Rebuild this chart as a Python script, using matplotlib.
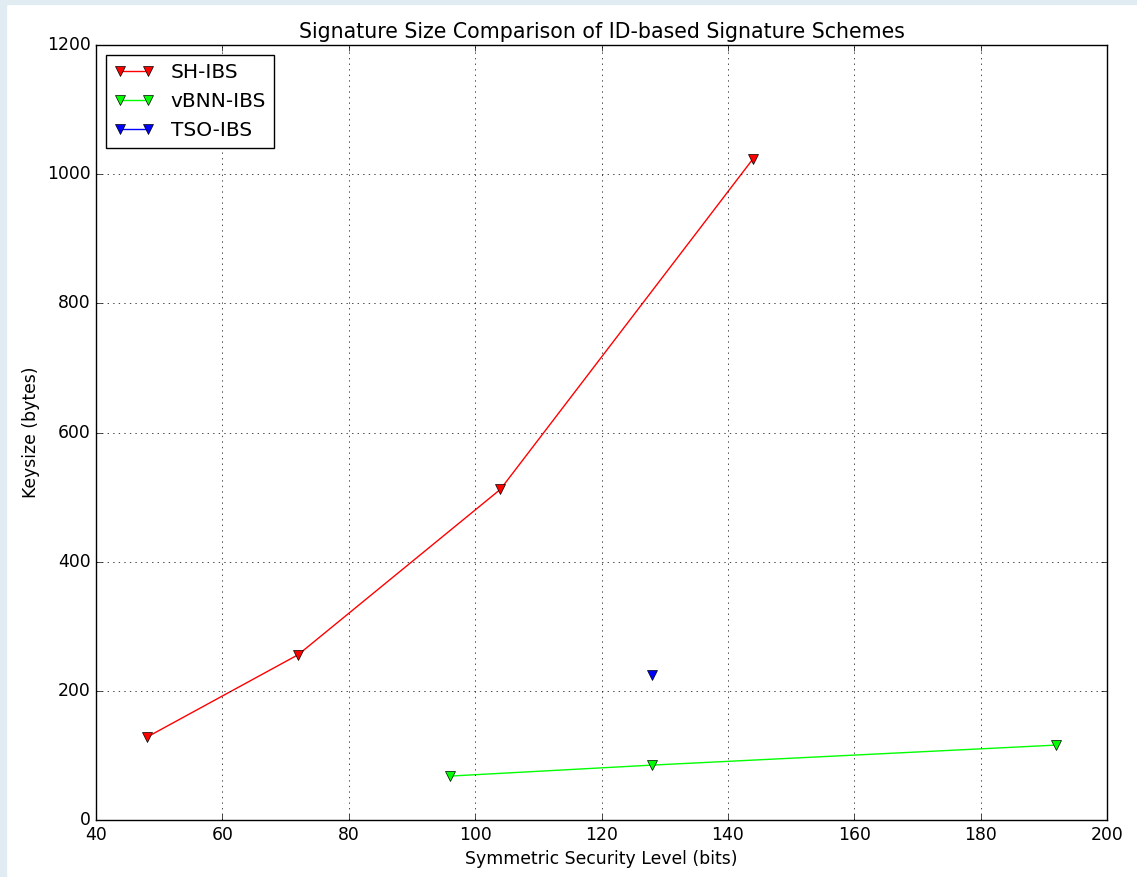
import matplotlib
matplotlib.use('Agg')
import matplotlib.pyplot as plt
from matplotlib.patches import Rectangle

# data
sh_x = [48, 72, 104, 144]
sh_y = [128, 256, 512, 1024]
vbnn_x = [96, 128, 192]
vbnn_y = [68, 85, 116]
tso_x = [128]
tso_y = [224]

plt.style.use('classic')

fig = plt.figure(figsize=(11.37, 8.77), dpi=100, facecolor='white')
# light screenshot frame on the left and top
fig.patches.append(Rectangle((0, 0), 6 / 1137, 1, transform=fig.transFigure,
                             color='#e1ebf2', zorder=-1))
fig.patches.append(Rectangle((0, 1 - 4 / 877), 1, 4 / 877, transform=fig.transFigure,
                             color='#e1ebf2', zorder=-1))

ax = fig.add_axes([96 / 1137, 1 - 820 / 877, (1107 - 96) / 1137, (820 - 45) / 877])

ax.plot(sh_x, sh_y, 'v-', color='red', markersize=7, label='SH-IBS')
ax.plot(vbnn_x, vbnn_y, 'v-', color='lime', markersize=7, label='vBNN-IBS')
ax.plot(tso_x, tso_y, 'v-', color='blue', markersize=7, label='TSO-IBS')

ax.set_xlim(40, 200)
ax.set_ylim(0, 1200)
ax.set_title('Signature Size Comparison of ID-based Signature Schemes', fontsize=14.8)
ax.set_xlabel('Symmetric Security Level (bits)', fontsize=12.4)
ax.set_ylabel('Keysize (bytes)', fontsize=12.4)
ax.tick_params(labelsize=12.4)
ax.grid(True, linestyle=':', color='black')
ax.legend(loc='upper left', fontsize=14.5, numpoints=2)

plt.savefig('out.png', dpi=100, facecolor='white')
